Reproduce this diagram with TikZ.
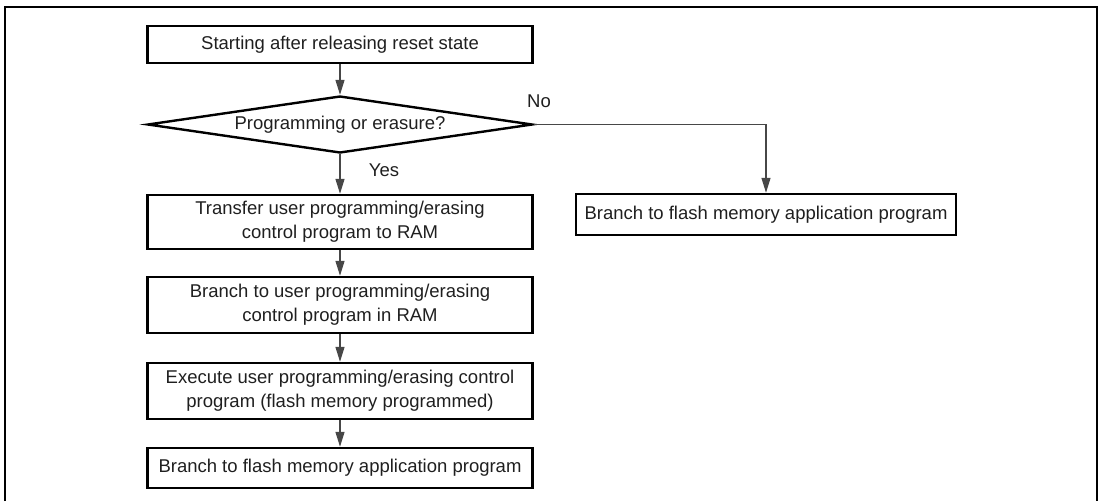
\documentclass[tikz,border=0pt]{standalone}
\usepackage{fontspec}
\setmainfont{Liberation Sans}
\usetikzlibrary{shapes.geometric,arrows.meta}
\begin{document}
\begin{tikzpicture}[x=1pt,y=-1pt,
  txt/.style={font=\fontsize{18.5}{24}\selectfont,text=black!88},
  box/.style={txt,draw=black,line width=2.4pt,minimum width=385pt,inner sep=0pt,align=center},
  dec/.style={txt,draw=black,diamond,line width=2.4pt,minimum width=385pt,minimum height=57pt,inner sep=0pt,aspect=7},
  conn/.style={line width=1.3pt,draw=black!72,-{Triangle[length=15pt,width=9pt]}},
  lbl/.style={txt,inner sep=0pt}]
\useasboundingbox (0,0) rectangle (1102,501);
\draw[line width=2.4pt] (4.7,501) -- (4.7,7) -- (1097,7) -- (1097,501);
\node[box,minimum height=37pt] (s) at (340,44.5) {Starting after releasing reset state};
\node[dec] (d) at (340,124.5) {Programming or erasure?};
\node[box,minimum height=54pt] (t) at (340,222) {Transfer user programming/erasing\\control program to RAM};
\node[box,minimum height=56pt] (b) at (340,305) {Branch to user programming/erasing\\control program in RAM};
\node[box,minimum height=56pt] (e) at (340,391) {Execute user programming/erasing control\\program (flash memory programmed)};
\node[box,minimum height=40pt] (f) at (340,468) {Branch to flash memory application program};
\node[box,minimum width=380pt,minimum height=41pt] (r) at (766,214.5) {Branch to flash memory application program};
\node[lbl] (no) at (539,101) {No};
\node[lbl] (yes) at (384,170) {Yes};
\draw[conn] (s) -- (d);
\draw[conn] (d) -- (t);
\draw[conn] (t) -- (b);
\draw[conn] (b) -- (e);
\draw[conn] (e) -- (f);
\draw[conn] (d.east) -| (r.north);
\end{tikzpicture}
\end{document}
